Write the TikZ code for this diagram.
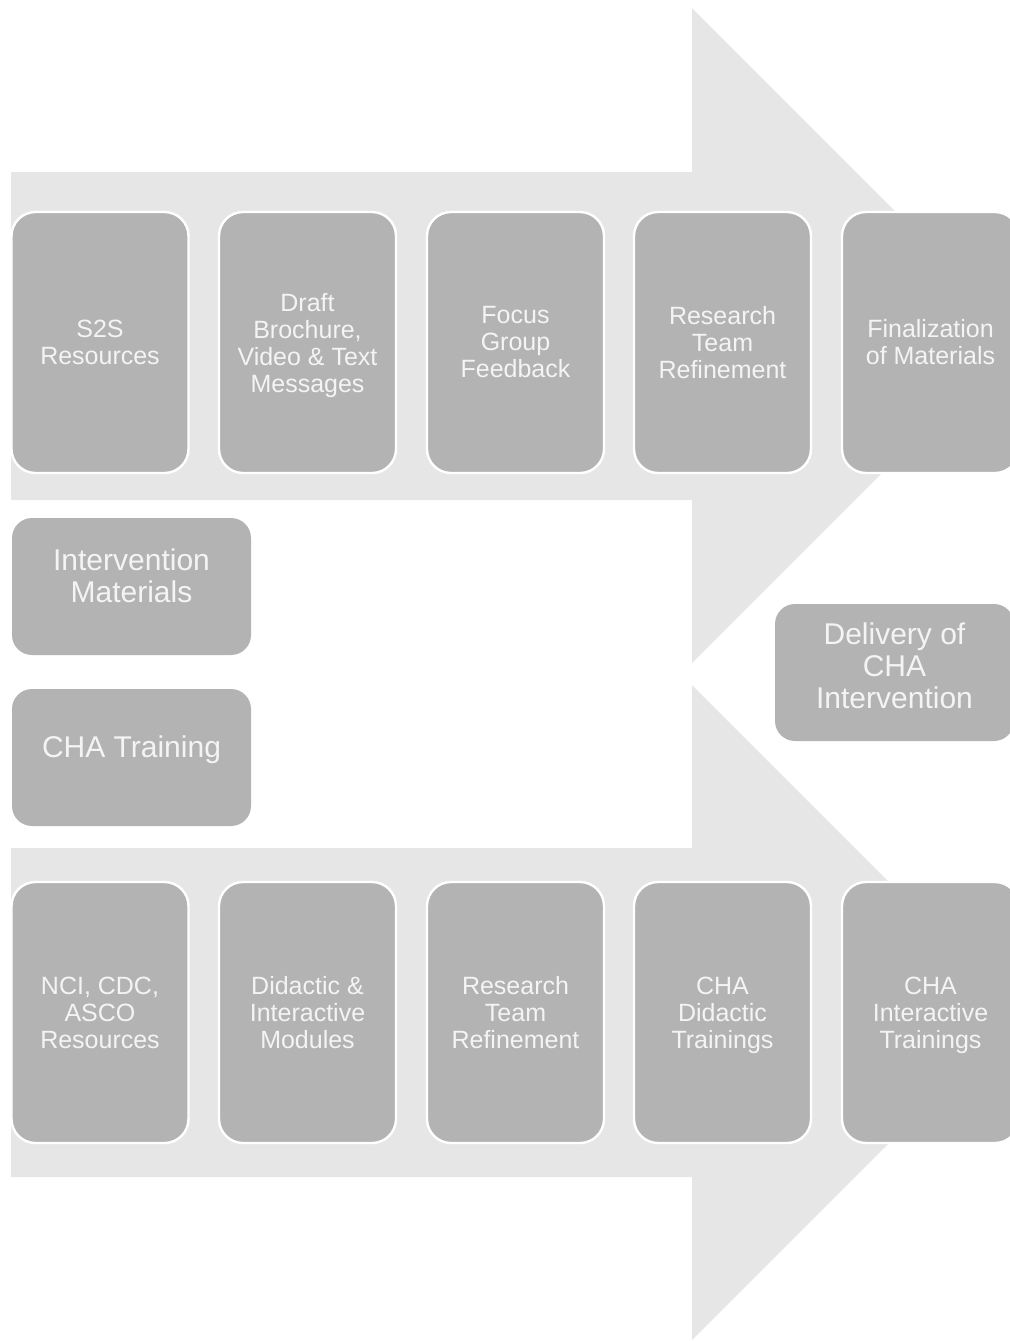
\documentclass[tikz,border=0pt]{standalone}
\usepackage{fontspec}
\setmainfont{Liberation Sans}
\definecolor{arrowgray}{HTML}{E6E6E6}
\definecolor{boxgray}{HTML}{B3B3B3}
\definecolor{txtwhite}{HTML}{F4F4F4}
\begin{document}
\begin{tikzpicture}[x=0.5pt,y=-0.5pt,
  stepbox/.style={rectangle,rounded corners=12pt,fill=boxgray,draw=white,line width=1.2pt,
    minimum width=88.5pt,minimum height=130.5pt,inner sep=2pt,align=center,
    text=txtwhite,font=\fontsize{12.5}{13.5}\selectfont},
  bigbox/.style={rectangle,rounded corners=10pt,fill=boxgray,draw=none,
    minimum width=119.5pt,minimum height=68.5pt,inner sep=2pt,align=center,
    text=txtwhite,font=\fontsize{15}{16}\selectfont},
  bigarrow/.style={fill=arrowgray,draw=none}]
\useasboundingbox (0,0) rectangle (1010,1341);
\clip (0,0) rectangle (1010,1341);
% big arrows
\path[bigarrow] (11,172) -- (692,172) -- (692,8) -- (1019.5,335.5) -- (692,663) -- (692,500) -- (11,500) -- cycle;
\path[bigarrow] (11,848) -- (692,848) -- (692,685) -- (1019.5,1012.5) -- (692,1340) -- (692,1177) -- (11,1177) -- cycle;
% upper row
\node[stepbox] (u1) at (100,342.5) {S2S\\Resources};
\node[stepbox] (u2) at (307.5,342.5) {Draft\\Brochure,\\Video \& Text\\\smash{Messages}};
\node[stepbox] (u3) at (515.5,342.5) {Focus\\Group\\Feedback};
\node[stepbox] (u4) at (722.5,342.5) {Research\\Team\\Refinement};
\node[stepbox] (u5) at (930.5,342.5) {Finalization\\of Materials};
% lower row
\node[stepbox] (l1) at (100,1012.5) {NCI, CDC,\\ASCO\\Resources};
\node[stepbox] (l2) at (307.5,1012.5) {Didactic \&\\Interactive\\Modules};
\node[stepbox] (l3) at (515.5,1012.5) {Research\\Team\\Refinement};
\node[stepbox] (l4) at (722.5,1012.5) {CHA\\Didactic\\\smash{Trainings}};
\node[stepbox] (l5) at (930.5,1012.5) {CHA\\Interactive\\\smash{Trainings}};
% middle boxes
\node[bigbox] (im) at (131.5,586.5) {Intervention\\Materials\\[-10pt]\strut};
\node[bigbox] (ct) at (131.5,757.5) {CHA Training\\[-9.6pt]\strut};
\node[bigbox] (dl) at (894.5,672.5) {Delivery of\\CHA\\Intervention\\[-14pt]\strut};
\end{tikzpicture}
\end{document}
